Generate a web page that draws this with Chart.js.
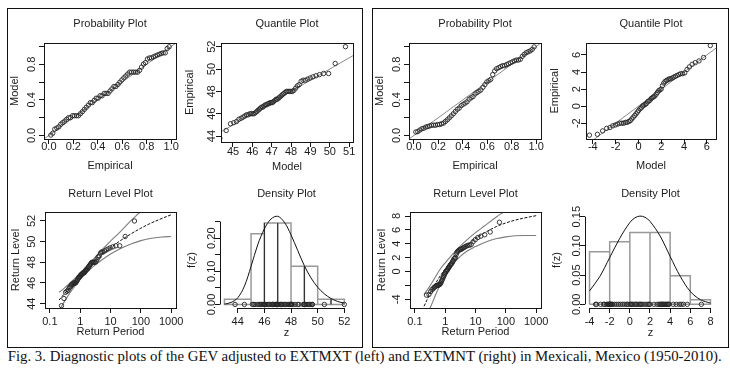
<!DOCTYPE html>
<html><head><meta charset="utf-8">
<script src="https://cdn.jsdelivr.net/npm/chart.js@4.4.1/dist/chart.umd.min.js"></script>
<style>
html,body{margin:0;padding:0;background:#fff;width:730px;height:373px;overflow:hidden;}
#wrap{position:relative;width:730px;height:373px;background:#fff;}
canvas.layer{position:absolute;left:0;top:0;width:730px;height:373px;}
.frame{position:absolute;border:1px solid #111;box-sizing:border-box;}
#cap{position:absolute;left:0;top:350px;width:730px;text-align:center;font-family:"Liberation Serif","Times New Roman",serif;font-size:14px;line-height:14px;color:#111;white-space:nowrap;}
#capt{display:inline-block;transform-origin:50% 50%;}
</style></head><body>
<div id="wrap">
<div class="frame" style="left:7px;top:8px;width:356px;height:340px"></div>
<div class="frame" style="left:372px;top:8px;width:357px;height:340px"></div>
<div id="cap"><span id="capt">Fig. 3. Diagnostic plots of the GEV adjusted to EXTMXT (left) and EXTMNT (right) in Mexicali, Mexico (1950-2010).</span></div>
</div>
<script>
// ---------- data ----------
const PROB_EMP = [0.016,0.032,0.048,0.065,0.081,0.097,0.113,0.129,0.145,0.161,0.177,0.194,0.210,0.226,0.242,0.258,0.274,0.290,0.306,0.323,0.339,0.355,0.371,0.387,0.403,0.419,0.435,0.452,0.468,0.484,0.500,0.516,0.532,0.548,0.565,0.581,0.597,0.613,0.629,0.645,0.661,0.677,0.694,0.710,0.726,0.742,0.758,0.774,0.790,0.806,0.823,0.839,0.855,0.871,0.887,0.903,0.919,0.935,0.952,0.968,0.984];
const RET_PERIOD = [0.242,0.291,0.330,0.365,0.397,0.428,0.459,0.488,0.518,0.548,0.578,0.609,0.640,0.672,0.705,0.738,0.773,0.809,0.846,0.884,0.924,0.965,1.008,1.054,1.101,1.151,1.203,1.258,1.316,1.377,1.443,1.512,1.586,1.664,1.749,1.840,1.937,2.043,2.157,2.282,2.418,2.567,2.732,2.915,3.120,3.350,3.610,3.908,4.250,4.649,5.120,5.685,6.373,7.236,8.347,9.823,11.89,14.99,20.16,30.49,61.5];

const LEFT_Z = [43.8,44.5,45.1,45.2,45.3,45.5,45.6,45.7,45.8,45.9,45.9,46.0,46.0,46.0,46.0,46.1,46.2,46.3,46.4,46.5,46.6,46.6,46.7,46.8,46.8,46.9,46.9,47.0,47.0,47.0,47.1,47.2,47.3,47.3,47.4,47.5,47.6,47.7,47.8,47.9,48.0,48.0,48.0,48.0,48.0,48.1,48.3,48.5,48.6,48.9,49.0,49.0,49.1,49.2,49.3,49.4,49.5,49.6,49.6,50.5,52.0];
const LEFT_MODEL_Q = [44.32,44.65,44.87,45.04,45.18,45.30,45.42,45.52,45.61,45.70,45.78,45.87,45.94,46.02,46.09,46.16,46.23,46.29,46.36,46.42,46.49,46.55,46.61,46.67,46.74,46.80,46.86,46.92,46.98,47.04,47.10,47.17,47.23,47.29,47.36,47.42,47.49,47.55,47.62,47.69,47.76,47.84,47.91,47.99,48.07,48.15,48.24,48.33,48.42,48.52,48.62,48.74,48.86,48.99,49.13,49.29,49.47,49.68,49.94,50.28,50.81];
const LEFT_MODEL_P = [0.004,0.025,0.071,0.083,0.097,0.126,0.144,0.161,0.181,0.200,0.200,0.222,0.222,0.222,0.222,0.244,0.267,0.293,0.317,0.341,0.369,0.369,0.394,0.419,0.419,0.446,0.446,0.473,0.473,0.473,0.500,0.524,0.551,0.551,0.574,0.599,0.624,0.648,0.669,0.691,0.712,0.712,0.712,0.712,0.712,0.732,0.769,0.803,0.819,0.860,0.872,0.872,0.884,0.894,0.904,0.913,0.922,0.929,0.929,0.978,0.998];

const RIGHT_Z = [-3.4,-3.3,-2.9,-2.6,-2.5,-2.3,-2.2,-2.1,-2.0,-2.0,-2.0,-1.9,-1.9,-1.8,-1.7,-1.5,-1.3,-1.1,-0.9,-0.7,-0.5,-0.3,-0.2,0.0,0.1,0.2,0.3,0.5,0.6,0.7,0.9,1.0,1.1,1.2,1.4,1.6,1.8,1.9,2.0,2.4,2.7,2.9,3.0,3.1,3.2,3.2,3.3,3.4,3.5,3.6,3.7,3.8,3.8,3.9,4.3,4.6,4.9,5.1,5.3,5.7,7.1];
const RIGHT_MODEL_Q = [-4.30,-3.60,-3.14,-2.79,-2.50,-2.25,-2.02,-1.82,-1.63,-1.46,-1.30,-1.14,-1.00,-0.85,-0.72,-0.59,-0.46,-0.33,-0.21,-0.09,0.02,0.14,0.25,0.36,0.47,0.58,0.69,0.80,0.91,1.01,1.12,1.23,1.33,1.44,1.55,1.66,1.77,1.88,1.99,2.10,2.22,2.34,2.46,2.58,2.70,2.83,2.96,3.10,3.24,3.39,3.54,3.70,3.87,4.06,4.26,4.47,4.71,4.98,5.31,5.71,6.30];
const RIGHT_MODEL_P = [0.039,0.043,0.060,0.075,0.081,0.094,0.100,0.107,0.115,0.115,0.115,0.123,0.123,0.131,0.139,0.157,0.177,0.198,0.220,0.244,0.269,0.294,0.308,0.335,0.350,0.364,0.378,0.408,0.423,0.437,0.466,0.482,0.497,0.511,0.542,0.572,0.602,0.616,0.631,0.685,0.726,0.751,0.763,0.774,0.785,0.785,0.797,0.807,0.818,0.829,0.839,0.848,0.848,0.857,0.890,0.912,0.931,0.941,0.951,0.968,0.996];

const RL_T = [0.2,0.3,0.5,0.7,1,1.5,2,3,5,10,20,50,100,200,500,1000];
const LEFT_RL_FIT = [44.35,44.95,45.65,46.15,46.65,47.2,47.55,48.05,48.65,49.4,50.05,50.8,51.3,51.75,52.25,52.6];
const LEFT_RL_UP  = [45.1,45.5,46.1,46.5,46.95,47.5,47.9,48.45,49.15,50.05,50.9,52.1,52.95,53.9,55,56];
const LEFT_RL_LO  = [43.3,44.2,45.2,45.8,46.35,46.9,47.25,47.7,48.2,48.8,49.3,49.8,50.1,50.3,50.45,50.5];
const RIGHT_RL_FIT = [-5.0,-3.4,-1.6,-0.55,0.35,1.35,2.0,2.8,3.7,4.75,5.6,6.5,7.0,7.4,7.8,8.05];
const RIGHT_RL_UP  = [-3.3,-2.2,-0.6,0.4,1.25,2.15,2.75,3.6,4.5,5.6,6.6,7.9,8.8,9.8,11,12];
const RIGHT_RL_LO  = [-7,-5.5,-3.2,-1.8,-0.6,0.6,1.3,2.1,2.9,3.6,4.2,4.75,5.0,5.15,5.2,5.2];

const LEFT_HIST_EDGES = [43,45,46,47,48,49,50,51,52];
const LEFT_HIST_DENS  = [0.016,0.213,0.246,0.246,0.115,0.115,0.016,0.016];
const LEFT_HIST_DARK  = [46,47,49,51];
const RIGHT_HIST_EDGES = [-4,-2,0,2,4,6,8];
const RIGHT_HIST_DENS  = [0.090,0.107,0.123,0.123,0.049,0.008];

const LEFT_DENS_Z = [43,43.5,44,44.5,45,45.5,46,46.5,47,47.5,48,48.5,49,49.5,50,50.5,51,51.5,52];
const LEFT_DENS_F = [0.001,0.006,0.02,0.055,0.115,0.18,0.228,0.258,0.266,0.248,0.21,0.163,0.117,0.08,0.052,0.032,0.018,0.009,0.004];
const RIGHT_DENS_Z = [-4,-3,-2,-1,0,0.5,1,1.5,2,3,4,5,6,7,8];
const RIGHT_DENS_F = [0.023,0.047,0.08,0.113,0.14,0.148,0.151,0.149,0.142,0.117,0.082,0.048,0.022,0.008,0.002];

const ONE_TO_ONE_PROB = [-0.04,1.04];
const ONE_TO_ONE_LEFT = [43,53];
const ONE_TO_ONE_RIGHT = [-5,8];

// tick values and labels
const PROB_TICKS = [0,0.2,0.4,0.6,0.8,1];
const PROB_X_LABELS = ['0.0','0.2','0.4','0.6','0.8','1.0'];
const PROB_Y_LABELS = ['0.0','','0.4','','0.8',''];
const LQ_X_TICKS = [45,46,47,48,49,50,51];
const LQ_Y_TICKS = [44,46,48,50,52];
const RQ_X_TICKS = [-4,-2,0,2,4,6];
const RQ_Y_TICKS = [-2,0,2,4,6];
const RL_X_TICKS = [0.1,1,10,100,1000];
const RL_X_LABELS = ['0.1','1','10','100','1000'];
const LRL_Y_TICKS = [44,46,48,50,52];
const RRL_Y_TICKS = [-4,-2,0,2,4,6,8];
const RRL_Y_LABELS = ['-4','','0','2','4','6','8'];
const LD_X_TICKS = [44,46,48,50,52];
const LD_Y_TICKS = [0,0.05,0.1,0.15,0.2,0.25];
const LD_Y_LABELS = ['0.00','','0.10','','0.20',''];
const RD_X_TICKS = [-4,-2,0,2,4,6,8];
const RD_Y_TICKS = [0,0.05,0.1,0.15];
const RD_Y_LABELS = ['0.00','0.05','0.10','0.15'];

// ---------- helpers ----------
const pts = (xs, ys) => xs.map((x, i) => ({x: x, y: ys[i]}));
const zeros = xs => xs.map(x => ({x: x, y: 0}));
function histOutline(edges, dens) {
  const d = [];
  for (let i = 0; i < dens.length; i++) {
    d.push({x: edges[i], y: 0}, {x: edges[i], y: dens[i]}, {x: edges[i+1], y: dens[i]}, {x: edges[i+1], y: 0}, {x: edges[i], y: 0}, {x: edges[i], y: null});
  }
  return d;
}
function histDividers(edges, dens, marks) {
  const d = [];
  marks.forEach(m => {
    const k = edges.indexOf(m);
    const h = Math.max(dens[k-1] || 0, dens[k] || 0);
    d.push({x: m, y: 0}, {x: m, y: h}, {x: m, y: null});
  });
  return d;
}
const pointSet = data => ({data, showLine:false, pointRadius:2.2, pointHoverRadius:2.2, pointBorderWidth:0.9,
  borderColor:'#262626', pointBorderColor:'#262626', backgroundColor:'rgba(0,0,0,0)', pointBackgroundColor:'rgba(0,0,0,0)'});
const lineSet = (data, color, width, dash, smooth) => {
  const d = {data, showLine:true, pointRadius:0, pointHoverRadius:0, borderColor:color, borderWidth:width};
  if (dash) d.borderDash = dash;
  if (smooth) d.tension = 0.35;
  return d;
};

const GREY = '#8a8a8a';
const CI_GREY = '#7c7c7c';
const FONT = '11px "Liberation Sans", Arial, Helvetica, sans-serif';

function decor(c, s) {
  const ctx = c.ctx, a = c.chartArea, xs = c.scales.x, ys = c.scales.y;
  ctx.save();
  ctx.strokeStyle = '#151515'; ctx.lineWidth = 1;
  if (s.box) {
    ctx.strokeRect(Math.round(a.left) + 0.5, Math.round(a.top) + 0.5, Math.round(a.right - a.left), Math.round(a.bottom - a.top));
  } else {
    const yb = Math.round(a.bottom) + 0.5, xl = Math.round(a.left) + 0.5;
    ctx.beginPath();
    ctx.moveTo(xs.getPixelForValue(s.xTicks[0]), yb);
    ctx.lineTo(xs.getPixelForValue(s.xTicks[s.xTicks.length - 1]), yb);
    ctx.moveTo(xl, ys.getPixelForValue(s.yTicks[0]));
    ctx.lineTo(xl, ys.getPixelForValue(s.yTicks[s.yTicks.length - 1]));
    ctx.stroke();
  }
  ctx.fillStyle = '#1c1c1c';
  ctx.font = FONT;
  ctx.textAlign = 'center'; ctx.textBaseline = 'middle';
  const cx = (a.left + a.right) / 2, cy = (a.top + a.bottom) / 2;
  ctx.fillText(s.title, cx, s.titleY);
  s.xTicks.forEach((v, i) => { const t = s.xLabels[i]; if (t) ctx.fillText(t, xs.getPixelForValue(v), s.xLabelY); });
  ctx.fillText(s.xTitle, cx, s.xTitleY);
  s.yTicks.forEach((v, i) => {
    const t = s.yLabels[i]; if (!t) return;
    ctx.save(); ctx.translate(s.yLabelX, ys.getPixelForValue(v)); ctx.rotate(-Math.PI / 2); ctx.fillText(t, 0, 0); ctx.restore();
  });
  ctx.save(); ctx.translate(s.yTitleX, cy); ctx.rotate(-Math.PI / 2); ctx.fillText(s.yTitle, 0, 0); ctx.restore();
  ctx.restore();
}

function axisCfg(type, position, min, max, ticks) {
  return {
    type, position, min, max,
    afterBuildTicks: sc => { sc.ticks = ticks.map(v => ({value: v})); },
    afterFit: sc => { if (position === 'bottom') sc.height = 0; else sc.width = 0; },
    ticks: {display:false},
    grid: {display:true, drawOnChartArea:false, drawTicks:true, tickLength:5, color:'#151515', lineWidth:1},
    border: {display:false},
    title: {display:false}
  };
}

const wrap = document.getElementById('wrap');
function makePanel(s) {
  const cv = document.createElement('canvas');
  cv.width = 730; cv.height = 373; cv.className = 'layer';
  wrap.appendChild(cv);
  const [x0, y0, x1, y1] = s.area;
  new Chart(cv.getContext('2d'), {
    type: 'scatter',
    data: {datasets: s.datasets},
    options: {
      responsive:false, animation:false, devicePixelRatio:1, events:[],
      layout: {padding: {left:x0, top:y0, right:730 - x1, bottom:373 - y1}, autoPadding:false},
      plugins: {legend:{display:false}, title:{display:false}, tooltip:{enabled:false}},
      scales: {
        x: axisCfg(s.xType || 'linear', 'bottom', s.xMin, s.xMax, s.xTicks),
        y: axisCfg('linear', 'left', s.yMin, s.yMax, s.yTicks)
      }
    },
    plugins: [{id:'rdecor', afterDraw(c) { decor(c, s); }}]
  });
}

// ---------- panels ----------
const ROW1 = {titleY:24, xLabelY:147, xTitleY:165.5};
const ROW2 = {titleY:194, xLabelY:321.5, xTitleY:332};

makePanel(Object.assign({}, ROW1, {
  area:[44,43,176,139], box:true, xMin:-0.04, xMax:1.04, yMin:-0.04, yMax:1.04,
  xTicks:PROB_TICKS, xLabels:PROB_X_LABELS, yTicks:PROB_TICKS, yLabels:PROB_Y_LABELS,
  title:'Probability Plot', xTitle:'Empirical', yTitle:'Model', yLabelX:32, yTitleX:15,
  datasets:[pointSet(pts(PROB_EMP, LEFT_MODEL_P)), lineSet(pts(ONE_TO_ONE_PROB, ONE_TO_ONE_PROB), GREY, 1)]
}));
makePanel(Object.assign({}, ROW1, {
  area:[221,43,353,142], box:true, xMin:44.38, xMax:51.2, yMin:43.47, yMax:52.33,
  xTicks:LQ_X_TICKS, xLabels:LQ_X_TICKS.map(String), yTicks:LQ_Y_TICKS, yLabels:LQ_Y_TICKS.map(String),
  title:'Quantile Plot', xTitle:'Model', yTitle:'Empirical', yLabelX:212, yTitleX:190, xLabelY:151.5, xTitleY:166.5,
  datasets:[pointSet(pts(LEFT_MODEL_Q, LEFT_Z)), lineSet(pts(ONE_TO_ONE_LEFT, ONE_TO_ONE_LEFT), GREY, 1)]
}));
makePanel(Object.assign({}, ROW2, {
  area:[45,212,176,308], box:true, xType:'logarithmic', xMin:0.069, xMax:1445, yMin:43.58, yMax:52.87,
  xTicks:RL_X_TICKS, xLabels:RL_X_LABELS, yTicks:LRL_Y_TICKS, yLabels:LRL_Y_TICKS.map(String),
  title:'Return Level Plot', xTitle:'Return Period', yTitle:'Return Level', yLabelX:32, yTitleX:16,
  datasets:[
    pointSet(pts(RET_PERIOD, LEFT_Z)),
    lineSet(pts(RL_T, LEFT_RL_FIT), '#111', 1, [3,1.5], true),
    lineSet(pts(RL_T, LEFT_RL_LO), CI_GREY, 1.1, null, true),
    lineSet(pts(RL_T, LEFT_RL_UP), CI_GREY, 1.1, null, true)]
}));
makePanel(Object.assign({}, ROW2, {
  area:[220,212,353,308], box:false, xMin:42.67, xMax:52.65, yMin:-0.0107, yMax:0.279,
  xTicks:LD_X_TICKS, xLabels:LD_X_TICKS.map(String), yTicks:LD_Y_TICKS, yLabels:LD_Y_LABELS,
  title:'Density Plot', xTitle:'z', yTitle:'f(z)', yLabelX:211.5, yTitleX:191.5, xTitleY:333,
  datasets:[
    pointSet(zeros(LEFT_Z)),
    lineSet(pts(LEFT_DENS_Z, LEFT_DENS_F), '#111', 1, null, true),
    lineSet(histDividers(LEFT_HIST_EDGES, LEFT_HIST_DENS, LEFT_HIST_DARK), '#222', 1),
    lineSet(histOutline(LEFT_HIST_EDGES, LEFT_HIST_DENS), '#999', 1.5)]
}));

makePanel(Object.assign({}, ROW1, {
  area:[409,43,541,139], box:true, xMin:-0.04, xMax:1.04, yMin:-0.04, yMax:1.04,
  xTicks:PROB_TICKS, xLabels:PROB_X_LABELS, yTicks:PROB_TICKS, yLabels:PROB_Y_LABELS,
  title:'Probability Plot', xTitle:'Empirical', yTitle:'Model', yLabelX:397, yTitleX:380,
  datasets:[pointSet(pts(PROB_EMP, RIGHT_MODEL_P)), lineSet(pts(ONE_TO_ONE_PROB, ONE_TO_ONE_PROB), GREY, 1)]
}));
makePanel(Object.assign({}, ROW1, {
  area:[586,43,716,139], box:true, xMin:-4.6, xMax:6.8, yMin:-3.85, yMax:7.4,
  xTicks:RQ_X_TICKS, xLabels:RQ_X_TICKS.map(String), yTicks:RQ_Y_TICKS, yLabels:RQ_Y_TICKS.map(String),
  title:'Quantile Plot', xTitle:'Model', yTitle:'Empirical', yLabelX:577, yTitleX:555,
  datasets:[pointSet(pts(RIGHT_MODEL_Q, RIGHT_Z)), lineSet(pts(ONE_TO_ONE_RIGHT, ONE_TO_ONE_RIGHT), GREY, 1)]
}));
makePanel(Object.assign({}, ROW2, {
  area:[410,212,541,308], box:true, xType:'logarithmic', xMin:0.069, xMax:1445, yMin:-5.25, yMax:8.58,
  xTicks:RL_X_TICKS, xLabels:RL_X_LABELS, yTicks:RRL_Y_TICKS, yLabels:RRL_Y_LABELS,
  title:'Return Level Plot', xTitle:'Return Period', yTitle:'Return Level', yLabelX:397, yTitleX:382,
  datasets:[
    pointSet(pts(RET_PERIOD, RIGHT_Z)),
    lineSet(pts(RL_T, RIGHT_RL_FIT), '#111', 1, [3,1.5], true),
    lineSet(pts(RL_T, RIGHT_RL_LO), CI_GREY, 1.1, null, true),
    lineSet(pts(RL_T, RIGHT_RL_UP), CI_GREY, 1.1, null, true)]
}));
makePanel(Object.assign({}, ROW2, {
  area:[585,212,716,308], box:false, xMin:-4.45, xMax:8.55, yMin:-0.0063, yMax:0.158,
  xTicks:RD_X_TICKS, xLabels:RD_X_TICKS.map(String), yTicks:RD_Y_TICKS, yLabels:RD_Y_LABELS,
  title:'Density Plot', xTitle:'z', yTitle:'f(z)', yLabelX:577, yTitleX:556.5, xTitleY:333,
  datasets:[
    pointSet(zeros(RIGHT_Z)),
    lineSet(pts(RIGHT_DENS_Z, RIGHT_DENS_F), '#111', 1, null, true),
    lineSet(histOutline(RIGHT_HIST_EDGES, RIGHT_HIST_DENS), '#999', 1.5)]
}));

(function fitCaption(){
  const sp = document.getElementById('capt');
  const w = sp.getBoundingClientRect().width;
  if (w > 0) sp.style.transform = 'scaleX(' + (714 / w).toFixed(4) + ')';
})();
</script>
</body></html>
